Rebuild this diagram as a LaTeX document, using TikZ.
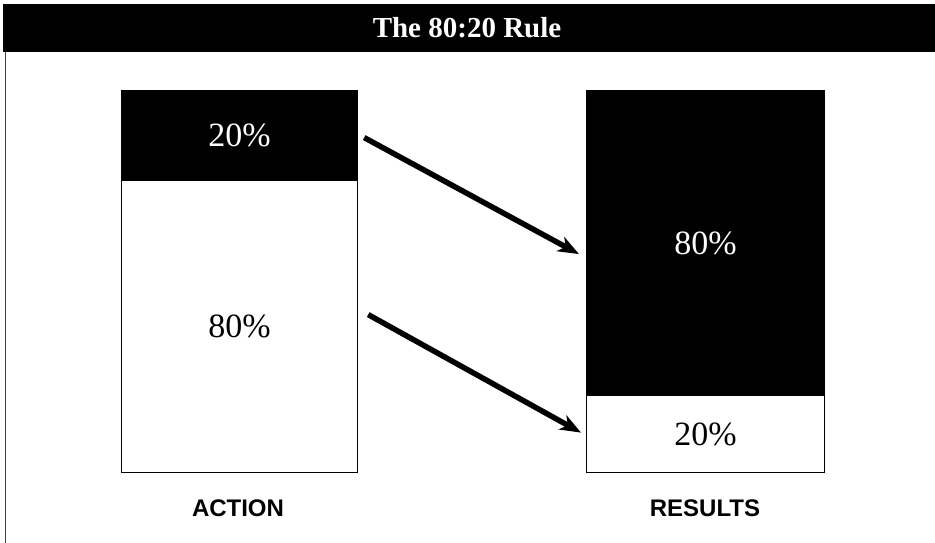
\documentclass[tikz,border=0pt]{standalone}
\usepackage{fontspec}
\setmainfont{Liberation Serif}
\newfontfamily\labelfont{Liberation Sans}
\usetikzlibrary{arrows.meta}
\tikzset{
  seg/.style={draw=black, line width=1.2pt, rectangle, inner sep=0pt, anchor=north west,
    font=\fontsize{34}{38}\selectfont},
  blackseg/.style={seg, fill=black, text=white},
  whiteseg/.style={seg, fill=white, text=black},
  arr/.style={line width=5.5pt, -{Stealth[length=21pt,width=16pt,inset=6pt]}},
  caption/.style={font=\labelfont\bfseries\fontsize{24}{28}\selectfont},
}
\begin{document}
\begin{tikzpicture}[x=1pt,y=-1pt]
\useasboundingbox (0,0) rectangle (935,543);
\fill[white] (0,0) rectangle (935,543);
% title bar
\fill[black] (3,4) rectangle (935,52);
\node[text=white, font=\bfseries\fontsize{29}{33}\selectfont] (title) at (467,28) {The 80:20 Rule};
\draw[line width=1.6pt, black!75] (5.5,52) -- (5.5,543);
% left bar
\node[blackseg, minimum width=236pt, minimum height=90pt] (a20) at (121,90) {20\%};
\node[whiteseg, minimum width=236pt, minimum height=292pt] (a80) at (121,180) {80\%};
% right bar
\node[blackseg, minimum width=238pt, minimum height=305pt] (r80) at (586,90) {80\%};
\node[whiteseg, minimum width=238pt, minimum height=77pt] (r20) at (586,395) {20\%};
% captions
\node[caption] (action) at (238,508) {ACTION};
\node[caption] (results) at (705,508) {RESULTS};
% arrows
\draw[arr] ([xshift=6pt,yshift=-2pt]a20.east) -- ([xshift=-7pt,yshift=-11pt]r80.west);
\draw[arr] ([xshift=10pt,yshift=12pt]a80.east) -- ([xshift=-5pt,yshift=1.5pt]r20.west);
\end{tikzpicture}
\end{document}
